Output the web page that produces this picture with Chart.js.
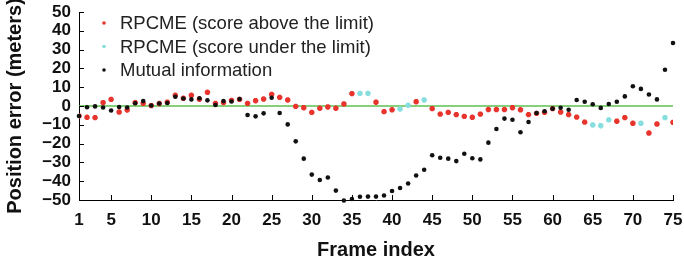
<!DOCTYPE html>
<html>
<head>
<meta charset="utf-8">
<script src="https://cdn.jsdelivr.net/npm/chart.js@4.4.1/dist/chart.umd.min.js"></script>
<style>
  html, body { margin: 0; padding: 0; background: #fff; }
  #wrap { width: 684px; height: 264px; }
</style>
</head>
<body>
<div id="wrap"><canvas id="chart" width="684" height="264"></canvas></div>
<script>
// frame numbers 1..75
const frames = Array.from({ length: 75 }, (_, i) => i + 1);
const xTicks = [1, 5, 10, 15, 20, 25, 30, 35, 40, 45, 50, 55, 60, 65, 70, 75];
const yTicks = [-50, -40, -30, -20, -10, 0, 10, 20, 30, 40, 50];

// RPCME error per frame (red = score above limit, cyan = under limit)
const rpcme = [
  -5.3, -6.0, -6.2, 1.8, 3.5, -3.2, -2.1, 1.8, 1.4, 0.2,
  1.3, 2.0, 5.7, 4.1, 5.7, 3.6, 7.3, 1.4, 1.8, 3.0,
  3.5, 1.4, 2.8, 3.7, 6.2, 4.6, 3.2, -0.2, -0.9, -3.4,
  -1.2, -0.5, -1.2, 1.1, 6.6, 6.7, 6.7, 2.0, -3.0, -2.0,
  -1.6, 0.4, 2.3, 3.2, -1.4, -4.3, -3.4, -4.6, -5.5, -6.0,
  -4.3, -1.9, -1.9, -1.9, -0.9, -2.0, -4.6, -3.9, -3.4, -1.4,
  -3.2, -4.6, -5.9, -8.6, -10.1, -10.5, -7.4, -8.1, -6.2, -9.2,
  -9.2, -14.4, -9.6, -6.2, -8.7
];
// frames where the score is under the limit
const underLimit = [36, 37, 41, 42, 44, 65, 66, 67, 71, 74];

// mutual information error per frame
const mutualInfo = [
  -5.3, -0.7, -0.2, -0.8, -2.4, -0.5, -0.8, 1.5, 2.6, 0.3,
  1.3, 1.6, 4.9, 4.0, 3.5, 4.1, 3.0, 0.5, 2.6, 2.4,
  3.7, -4.8, -5.5, -3.9, 4.4, -3.7, -9.8, -18.8, -28.0, -36.5,
  -39.4, -38.0, -45.0, -50.3, -49.5, -48.3, -48.2, -48.2, -47.6, -45.2,
  -43.6, -41.2, -37.0, -33.9, -26.2, -27.5, -28.0, -29.3, -25.4, -27.8,
  -28.4, -19.5, -12.2, -6.7, -7.3, -14.0, -8.5, -3.7, -2.8, -1.4,
  -0.9, -2.0, 3.2, 2.3, 0.9, -1.0, 1.1, 2.3, 5.1, 10.5,
  9.1, 6.1, 3.5, 19.3, 33.5
];

const FONT = '"Liberation Sans", Arial, Helvetica, sans-serif';

const aboveData = frames.filter(f => !underLimit.includes(f)).map(f => ({ x: f, y: rpcme[f - 1] }));
const underData = frames.filter(f => underLimit.includes(f)).map(f => ({ x: f, y: rpcme[f - 1] }));
const miData = frames.map(f => ({ x: f, y: mutualInfo[f - 1] }));

// inward tick marks like the original figure
const innerTicks = {
  id: 'innerTicks',
  afterDraw(chart) {
    const ctx = chart.ctx;
    const xs = chart.scales.x, ys = chart.scales.y;
    ctx.save();
    ctx.strokeStyle = '#000';
    ctx.lineWidth = 1;
    ctx.beginPath();
    xTicks.forEach(v => {
      const px = Math.round(xs.getPixelForValue(v)) + 0.5;
      ctx.moveTo(px, ys.bottom);
      ctx.lineTo(px, ys.bottom - 5);
    });
    yTicks.forEach(v => {
      const py = Math.round(ys.getPixelForValue(v)) + 0.5;
      ctx.moveTo(xs.left, py);
      ctx.lineTo(xs.left + 5, py);
    });
    ctx.stroke();
    ctx.restore();
  }
};

// legend inside the plot, top left (small markers like the original)
const insideLegend = {
  id: 'insideLegend',
  afterDraw(chart) {
    const ctx = chart.ctx;
    const x0 = chart.chartArea.left + 25;
    let y = chart.chartArea.top + 11;
    ctx.save();
    ctx.font = '18.5px ' + FONT;
    ctx.textBaseline = 'middle';
    const items = chart.data.datasets.filter(ds => ds.inLegend).reverse();
    items.forEach(ds => {
      ctx.fillStyle = ds.pointBackgroundColor;
      ctx.beginPath();
      ctx.arc(x0, y, 1.8, 0, Math.PI * 2);
      ctx.fill();
      ctx.fillStyle = '#222';
      ctx.fillText(ds.label, x0 + 16, y + 1);
      y += 23.5;
    });
    ctx.restore();
  }
};

const ctx = document.getElementById('chart').getContext('2d');
const myChart = new Chart(ctx, {
  type: 'scatter',
  data: {
    datasets: [
      {
        label: 'Mutual information',
        data: miData,
        inLegend: true,
        pointStyle: 'circle',
        pointRadius: 2.3,
        pointBackgroundColor: '#111',
        pointBorderColor: '#111',
        borderWidth: 0,
        clip: false,
        order: 1
      },
      {
        label: 'RPCME (score under the limit)',
        data: underData,
        inLegend: true,
        pointStyle: 'star',
        pointRadius: 2.7,
        pointBackgroundColor: '#86dede',
        pointBorderColor: '#86dede',
        borderWidth: 2,
        order: 2
      },
      {
        label: 'RPCME (score above the limit)',
        data: aboveData,
        inLegend: true,
        pointStyle: 'star',
        pointRadius: 2.7,
        pointBackgroundColor: '#e8342c',
        pointBorderColor: '#e8342c',
        borderWidth: 2,
        order: 3
      },
      {
        label: 'zero',
        type: 'line',
        data: [{ x: 1, y: 0 }, { x: 75, y: 0 }],
        borderColor: '#5cc04c',
        borderWidth: 1.6,
        pointRadius: 0,
        order: 4
      }
    ]
  },
  options: {
    responsive: false,
    animation: false,
    layout: { padding: { left: 0, right: 11, top: 12, bottom: 0 } },
    plugins: {
      legend: { display: false },
      tooltip: { enabled: false }
    },
    scales: {
      x: {
        type: 'linear',
        min: 1,
        max: 75,
        afterBuildTicks: axis => { axis.ticks = xTicks.map(v => ({ value: v })); },
        afterFit: axis => {
          axis.height = 64;
          axis.paddingLeft = 0;
          axis.paddingRight = 0;
        },
        grid: { display: false, drawTicks: false },
        border: { display: true, color: '#000', width: 1 },
        ticks: {
          color: '#111',
          padding: 10,
          maxRotation: 0,
          autoSkip: false,
          font: { family: FONT, size: 17, weight: 'bold' }
        },
        title: {
          display: true,
          text: 'Frame index',
          color: '#111',
          padding: { top: 4, bottom: 2 },
          font: { family: FONT, size: 20, weight: 'bold' }
        }
      },
      y: {
        min: -50,
        max: 50,
        afterBuildTicks: axis => { axis.ticks = yTicks.map(v => ({ value: v })); },
        afterFit: axis => {
          axis.width = 79;
          axis.paddingTop = 0;
          axis.paddingBottom = 0;
        },
        grid: { display: false, drawTicks: false },
        border: { display: true, color: '#000', width: 1 },
        ticks: {
          color: '#111',
          padding: 8,
          autoSkip: false,
          callback: v => (v < 0 ? '\u2212' + Math.abs(v) : String(v)),
          font: { family: FONT, size: 17, weight: 'bold' }
        },
        title: {
          display: true,
          text: 'Position error (meters)',
          color: '#111',
          padding: { top: 3, bottom: 4 },
          font: { family: FONT, size: 20, weight: 'bold' }
        }
      }
    }
  },
  plugins: [innerTicks, insideLegend]
});
</script>
</body>
</html>
